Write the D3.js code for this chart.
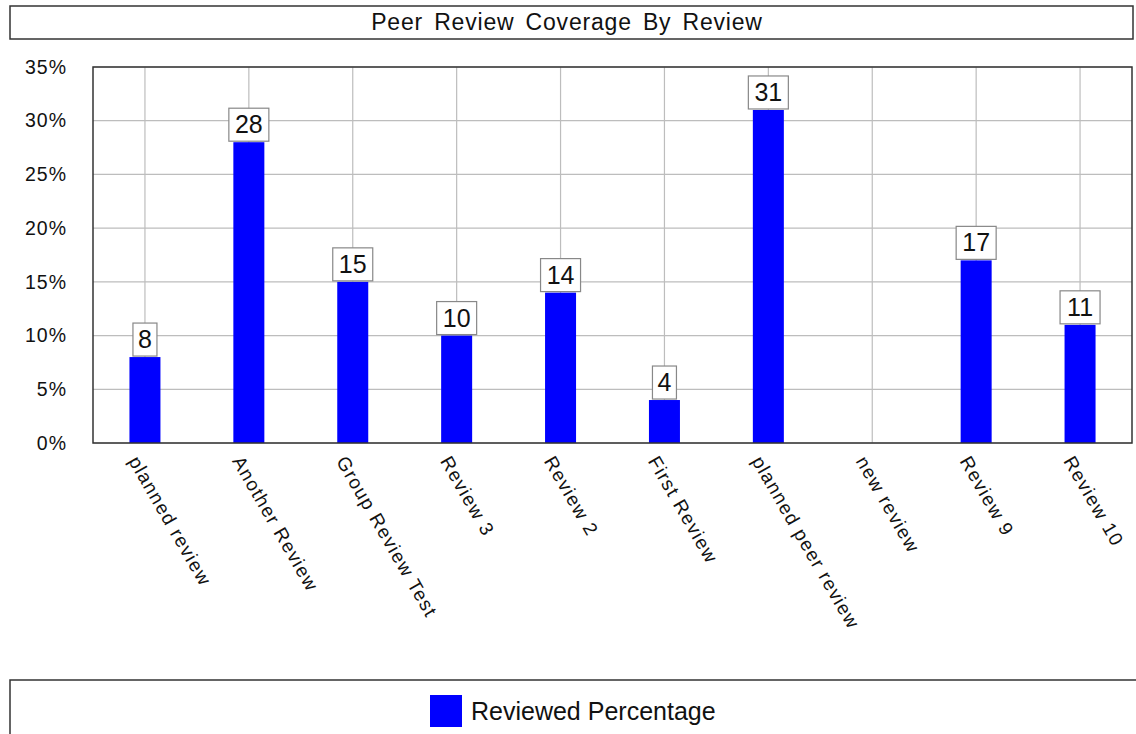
<!DOCTYPE html>
<html><head><meta charset="utf-8">
<script src="https://cdn.jsdelivr.net/npm/d3@7"></script>
<style>body{margin:0;background:#fff}svg{display:block;font-family:Arial,"Liberation Sans",sans-serif}</style>
</head><body>
<svg id="c" width="1136" height="734"></svg>
<script>
const categories = ["planned review","Another Review","Group Review Test","Review 3","Review 2","First Review","planned peer review","new review","Review 9","Review 10"];
const values = [8,28,15,10,14,4,31,0,17,11];
const yTicks = [0,5,10,15,20,25,30,35];
const title = "Peer Review Coverage By Review";
const seriesName = "Reviewed Percentage";

const svg = d3.select("#c");
const M = {left:93, right:1132, top:67, bottom:443};

// title box
svg.append("rect").attr("x",10).attr("y",6).attr("width",1123).attr("height",33)
  .attr("fill","#fff").attr("stroke","#333").attr("stroke-width",1.5);
svg.append("text").attr("x",567).attr("y",30).attr("text-anchor","middle")
  .attr("font-size",23).attr("letter-spacing",0.8).attr("word-spacing",4).attr("fill","#111").text(title);

const x = d3.scaleBand().domain(categories).range([M.left,M.right]);
const y = d3.scaleLinear().domain([0,35]).range([M.bottom,M.top]);

// gridlines
svg.append("g").selectAll("line").data(yTicks).join("line")
  .attr("x1",M.left).attr("x2",M.right).attr("y1",d=>y(d)).attr("y2",d=>y(d))
  .attr("stroke","#bdbdbd").attr("stroke-width",1.2);
svg.append("g").selectAll("line").data(categories).join("line")
  .attr("x1",d=>x(d)+x.bandwidth()/2).attr("x2",d=>x(d)+x.bandwidth()/2)
  .attr("y1",M.top).attr("y2",M.bottom)
  .attr("stroke","#bdbdbd").attr("stroke-width",1.2);

// bars
const bw = 31;
const data = categories.map((c,i)=>({c,v:values[i]})).filter(d=>d.v>0);
svg.append("g").selectAll("rect").data(data).join("rect")
  .attr("x",d=>x(d.c)+x.bandwidth()/2-bw/2).attr("width",bw)
  .attr("y",d=>y(d.v)).attr("height",d=>y(0)-y(d.v)).attr("fill","#0000ff");

// frame
svg.append("rect").attr("x",M.left).attr("y",M.top).attr("width",M.right-M.left).attr("height",M.bottom-M.top)
  .attr("fill","none").attr("stroke","#333").attr("stroke-width",1.5);

// y axis labels
const yAxis = d3.axisLeft(y).tickValues(yTicks).tickFormat(d=>d+"%").tickSize(0).tickPadding(26);
const ya = svg.append("g").attr("transform",`translate(${M.left},0)`).call(yAxis);
ya.select(".domain").remove();
ya.selectAll("text").attr("font-size",19.5).attr("letter-spacing",1).attr("fill","#111")
  .attr("font-family","Arial,'Liberation Sans',sans-serif");

// value labels
const lab = svg.append("g").selectAll("g").data(data).join("g")
  .attr("transform",d=>`translate(${x(d.c)+x.bandwidth()/2},${y(d.v)-1})`);
lab.append("rect").attr("x",d=>d.v>=10?-20:-12).attr("width",d=>d.v>=10?40:24)
  .attr("y",-33).attr("height",33).attr("fill","#fff").attr("stroke","#888").attr("stroke-width",1.2);
lab.append("text").attr("y",-8).attr("text-anchor","middle").attr("font-size",25).attr("fill","#111").text(d=>d.v);

// x labels
const xAxis = d3.axisBottom(x).tickSize(0).tickPadding(0);
const xa = svg.append("g").attr("transform",`translate(0,${M.bottom})`).call(xAxis);
xa.select(".domain").remove();
xa.selectAll("text").attr("font-size",19).attr("letter-spacing",1.3).attr("fill","#111")
  .attr("font-family","Arial,'Liberation Sans',sans-serif")
  .attr("text-anchor","start").attr("dy",0).attr("y",0)
  .attr("transform","translate(-17,18) rotate(60)");

// legend
svg.append("rect").attr("x",10).attr("y",680).attr("width",1140).attr("height",70)
  .attr("fill","#fff").attr("stroke","#333").attr("stroke-width",1.5);
svg.append("rect").attr("x",430).attr("y",695).attr("width",32).attr("height",32).attr("fill","#0000ff");
svg.append("text").attr("x",471).attr("y",720).attr("font-size",25).attr("fill","#111").text(seriesName);
</script>
</body></html>
